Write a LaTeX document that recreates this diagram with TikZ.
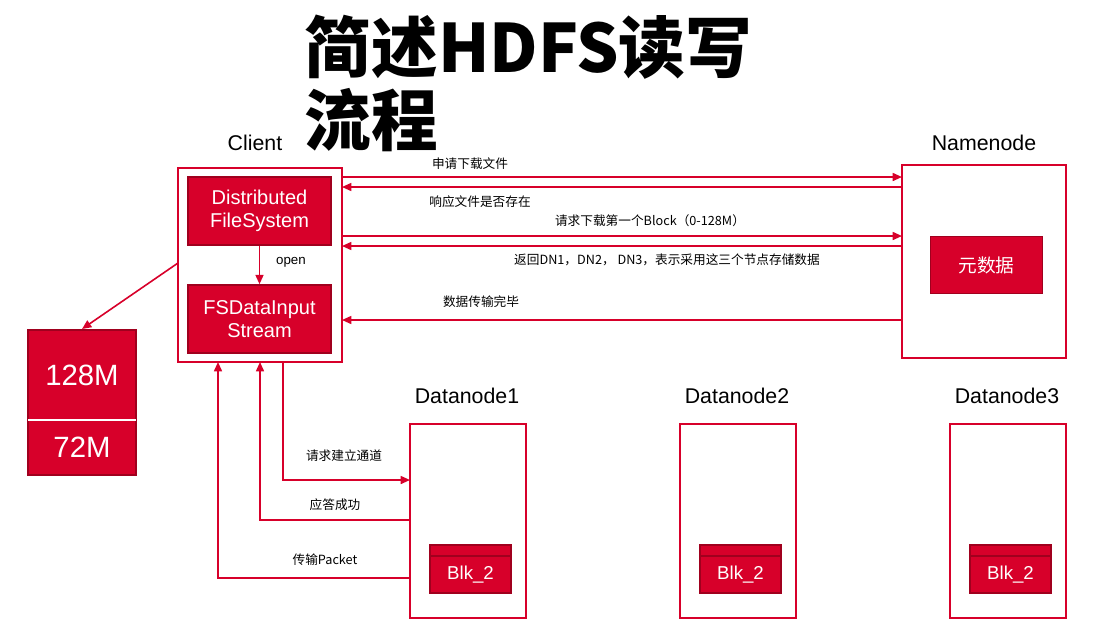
\documentclass[tikz,border=0pt]{standalone}
\usepackage{fontspec}
\setmainfont{Noto Sans CJK SC}
\newfontfamily\lat{Liberation Sans}
\usetikzlibrary{arrows.meta}
\definecolor{rd}{HTML}{D7002A}
\definecolor{dk}{HTML}{A0001E}
\tikzset{
 frame/.style={draw=rd,line width=1.5pt},
 redbox/.style={fill=rd,draw=dk,line width=1.2pt},
 wt/.style={text=white,font=\lat\fontsize{15}{17}\selectfont,align=center},
 lbl/.style={font=\fontsize{9.5}{11}\selectfont,inner sep=1pt},
 big/.style={font=\lat\fontsize{16}{18}\selectfont},
 arr/.style={draw=rd,line width=1.2pt,-{Triangle[length=7pt,width=6pt]}},
}
\begin{document}
\begin{tikzpicture}[x=0.75pt,y=-0.75pt]
\useasboundingbox (0,0) rectangle (1117,633);
% title
\node[anchor=west,font=\bfseries\fontsize{50}{54}\selectfont] (t1) at (300,47) {简述HDFS读写};
\node[anchor=west,font=\bfseries\fontsize{50}{54}\selectfont] (t2) at (300,120) {流程};
% client
\node[big] (cl) at (255,143) {Client};
\draw[frame] (178,168) rectangle (342,362);
\coordinate (clL) at (178,263);
\node[redbox,minimum width=107pt,minimum height=51pt,wt] (dfs) at (259.5,211) {Distributed\\FileSystem};
\node[redbox,minimum width=107pt,minimum height=51pt,wt] (fsd) at (259.5,319) {FSDataInput\\Stream};
\draw[arr] (dfs.south) -- (fsd.north);
\node[lbl,font=\lat\fontsize{10}{12}\selectfont] (op) at (291,262) {open};
% namenode
\node[big] (nn) at (984,143) {Namenode};
\draw[frame] (902,165) rectangle (1066,358);
\node[redbox,minimum width=84pt,minimum height=43pt,wt,font=\fontsize{14}{16}\selectfont] (meta) at (986.5,265) {元数据};
% messages
\coordinate (a1) at (342,177); \coordinate (b1) at (902,177);
\draw[arr] (a1) -- (b1);
\node[lbl] at (470,164) {申请下载文件};
\coordinate (a2) at (902,187); \coordinate (b2) at (342,187);
\draw[arr] (a2) -- (b2);
\node[lbl] at (480,202) {响应文件是否存在};
\coordinate (a3) at (342,236); \coordinate (b3) at (902,236);
\draw[arr] (a3) -- (b3);
\node[lbl,fill=white] at (650,221) {请求下载第一个Block（0-128M）};
\coordinate (a4) at (902,246); \coordinate (b4) at (342,246);
\draw[arr] (a4) -- (b4);
\node[lbl,fill=white] at (667,260) {返回DN1，DN2， DN3，表示采用这三个节点存储数据};
\coordinate (a5) at (902,320); \coordinate (b5) at (342,320);
\draw[arr] (a5) -- (b5);
\node[lbl] at (481,302) {数据传输完毕};
% block sizes
\draw[redbox] (28,330) rectangle (136,475);
\draw[white,line width=1.5pt] (28,420) -- (136,420);
\node[text=white,font=\lat\fontsize{22}{24}\selectfont] (m1) at (82,375) {128M};
\node[text=white,font=\lat\fontsize{22}{24}\selectfont] (m2) at (82,447) {72M};
\coordinate (bs) at (82,329);
\draw[arr] (clL) -- (bs);
% datanodes
\foreach \x/\n in {410/1,680/2,950/3}{
 \node[big] (dn\n) at (\x+57,396) {Datanode\n};
 \draw[frame] (\x,424) rectangle (\x+116,618);
 \draw[redbox] (\x+20,545) rectangle (\x+101,593);
 \draw[dk,line width=1.2pt] (\x+20,556) -- (\x+101,556);
 \node[wt,font=\lat\fontsize{14}{16}\selectfont] (blk\n) at (\x+60.5,575) {Blk\_2};
}
% client <-> datanode1
\coordinate (c1) at (283,362); \coordinate (d1) at (410,480);
\draw[arr] (c1) |- (d1);
\node[lbl] at (344,456) {请求建立通道};
\coordinate (c2) at (410,520); \coordinate (d2) at (260,362);
\draw[arr] (c2) -| (d2);
\node[lbl] at (335,505) {应答成功};
\coordinate (c3) at (410,578); \coordinate (d3) at (218,362);
\draw[arr] (c3) -| (d3);
\node[lbl] at (325,560) {传输Packet};
\end{tikzpicture}
\end{document}
